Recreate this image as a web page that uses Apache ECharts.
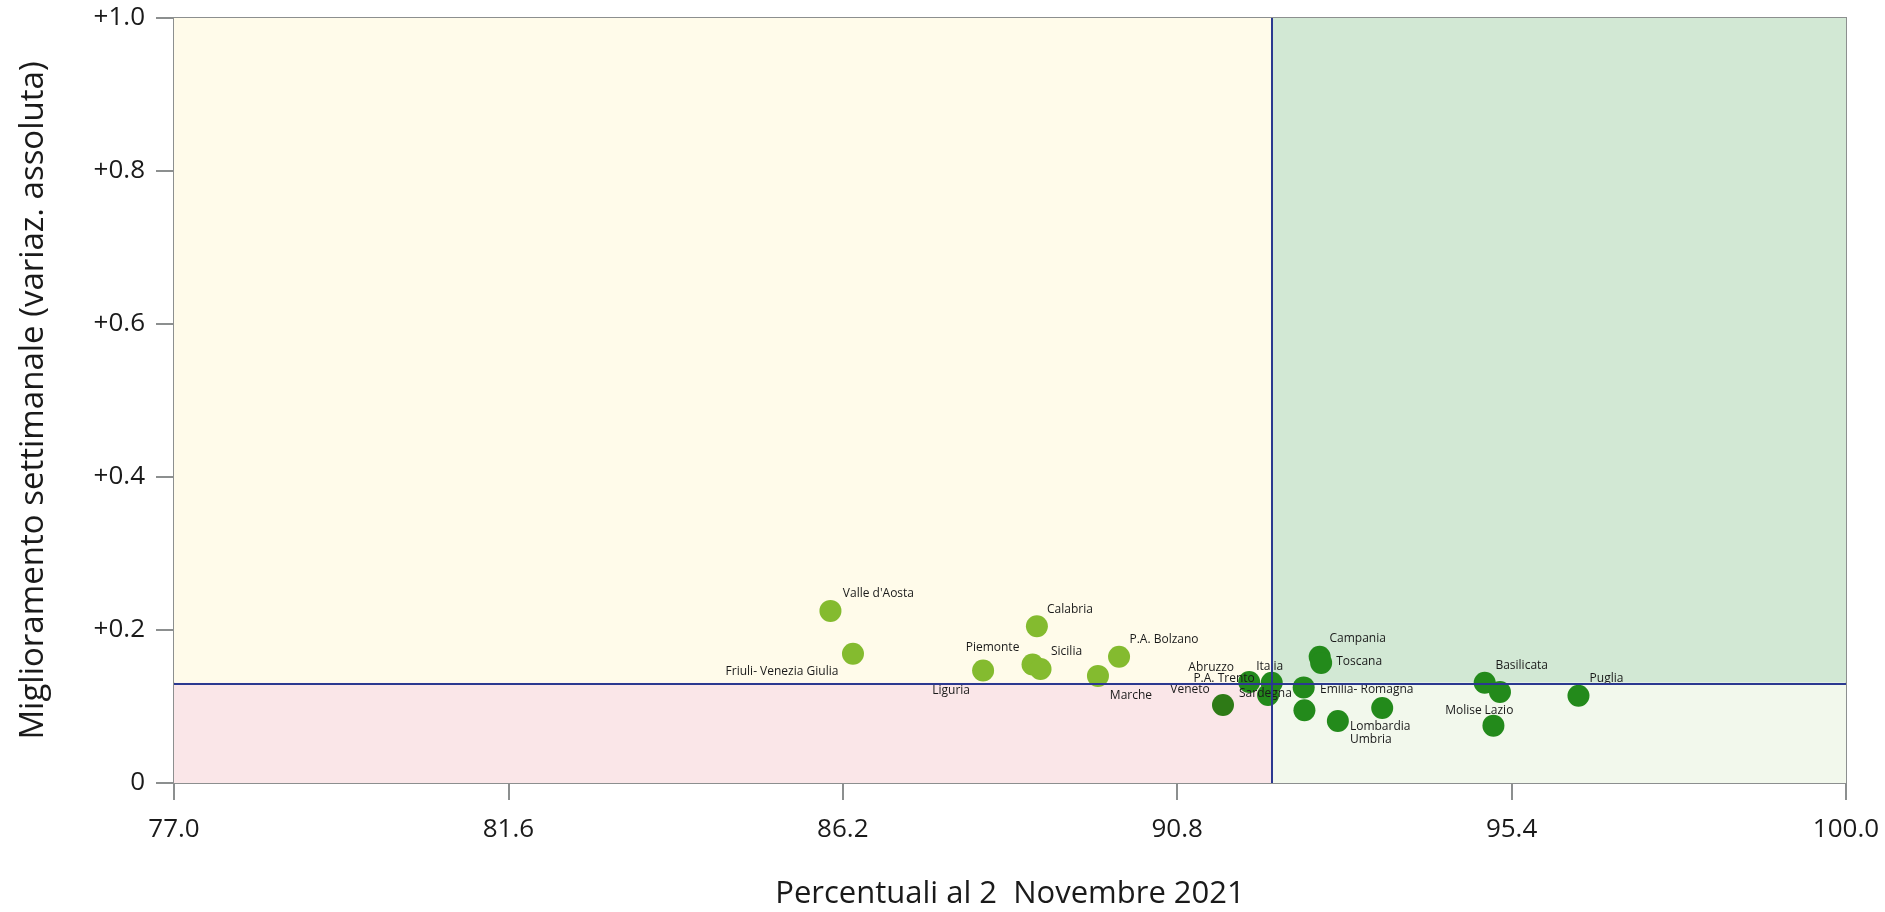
<!DOCTYPE html>
<html>
<head>
<meta charset="utf-8">
<script src="https://cdn.jsdelivr.net/npm/echarts@6/dist/echarts.min.js"></script>
<style>
html,body{margin:0;padding:0;background:#fff;}
#chart{width:1885px;height:912px;}
</style>
</head>
<body>
<div id="chart"></div>
<script>
// ---- data ----
var regions = ["Valle d'Aosta", "Friuli- Venezia Giulia", "Liguria", "Piemonte", "Sicilia", "Calabria",
  "P.A. Bolzano", "Marche", "Veneto", "Abruzzo", "P.A. Trento", "Italia", "Sardegna", "Campania",
  "Toscana", "Emilia- Romagna", "Umbria", "Lombardia", "Basilicata", "Lazio", "Molise", "Puglia"];
var percentuali = [86.03, 86.34, 88.13, 88.81, 88.92, 88.87,
  90.00, 89.71, 91.43, 91.79, 92.05, 92.10, 92.55, 92.76,
  92.78, 92.54, 93.01, 93.62, 95.03, 95.24, 95.15, 96.32];
var miglioramento = [0.225, 0.169, 0.147, 0.155, 0.149, 0.205,
  0.165, 0.140, 0.102, 0.132, 0.115, 0.131, 0.095, 0.165,
  0.157, 0.125, 0.081, 0.098, 0.131, 0.119, 0.075, 0.114];
var xTicks = [77.0, 81.6, 86.2, 90.8, 95.4, 100.0];
var yTicks = [0, 0.2, 0.4, 0.6, 0.8, 1.0];
var xTitle = "Percentuali al 2  Novembre 2021";
var yTitle = "Miglioramento settimanale (variaz. assoluta)";

// ---- label placement (style, not data) ----
var labelOffsets = [[48,-17],[-71,18],[-32,20],[-40,-17],[26,-17],[33,-17],
  [45,-17],[33,20],[-33,-15],[-38,-14],[-44,-16],[-2,-16],[-39,-17],[38,-18],
  [38,-1],[63,2],[33,19],[-2,19],[37,-17],[-1,19],[-30,-15],[28,-17]];

var iIt = regions.indexOf("Italia");
var vLine = percentuali[iIt];
var hLine = miglioramento[iIt];
var xMin = xTicks[0], xMax = xTicks[xTicks.length-1];
var yMin = yTicks[0], yMax = yTicks[yTicks.length-1];

function pointColor(x){
  if (x < 91) return '#84BB2F';
  if (x < 91.6) return '#2E7A16';
  return '#238A1B';
}

var seriesData = regions.map(function(r, i){
  return {
    name: r,
    value: [percentuali[i], miglioramento[i]],
    itemStyle: {color: pointColor(percentuali[i]), opacity: 1},
    label: {offset: labelOffsets[i]}
  };
});

var FONT = '"Open Sans", "Noto Sans", sans-serif';
var chart = echarts.init(document.getElementById('chart'), null, {renderer:'canvas'});
var option = {
  animation: false,
  backgroundColor: '#ffffff',
  grid: {left: 174, right: 39, top: 18, bottom: 129, show: true, borderColor: '#8c8f8f', borderWidth: 2,
    backgroundColor: 'transparent', outerBoundsMode: 'none', containLabel: false},
  xAxis: {
    type: 'value', min: xMin, max: xMax,
    name: xTitle, nameLocation: 'middle', nameGap: 96,
    nameTextStyle: {fontFamily: FONT, fontSize: 31, color: '#1a1a1a'},
    splitLine: {show: false},
    axisLine: {show: true, lineStyle: {color: '#8c8f8f', width: 2}},
    axisTick: {show: true, length: 17, lineStyle: {color: '#8c8f8f', width: 2}, customValues: xTicks},
    axisLabel: {customValues: xTicks, margin: 34, fontFamily: FONT, fontSize: 26, color: '#1a1a1a',
      formatter: function(v){ return v.toFixed(1); }}
  },
  yAxis: {
    type: 'value', min: yMin, max: yMax, interval: 0.2,
    name: yTitle, nameLocation: 'middle', nameGap: 124, nameRotate: 90,
    nameTextStyle: {fontFamily: FONT, fontSize: 33, color: '#1a1a1a'},
    splitLine: {show: false},
    axisLine: {show: true, lineStyle: {color: '#8c8f8f', width: 2}},
    axisTick: {show: true, length: 18, lineStyle: {color: '#8c8f8f', width: 2}},
    axisLabel: {margin: 29, fontFamily: FONT, fontSize: 26, color: '#1a1a1a',
      formatter: function(v){ return v === 0 ? '0' : '+' + v.toFixed(1); }}
  },
  series: [{
    type: 'scatter',
    symbolSize: 22,
    data: seriesData,
    label: {
      show: true, position: 'inside', formatter: '{b}',
      fontFamily: FONT, fontSize: 12, color: '#1a1a1a', align: 'center', verticalAlign: 'middle'
    },
    emphasis: {disabled: true},
    markArea: {
      silent: true,
      data: [
        [{xAxis: xMin, yAxis: hLine, itemStyle: {color: '#FFFBEA'}}, {xAxis: vLine, yAxis: yMax}],
        [{xAxis: vLine, yAxis: hLine, itemStyle: {color: '#D2E8D4'}}, {xAxis: xMax, yAxis: yMax}],
        [{xAxis: xMin, yAxis: yMin, itemStyle: {color: '#FAE6E8'}}, {xAxis: vLine, yAxis: hLine}],
        [{xAxis: vLine, yAxis: yMin, itemStyle: {color: '#F2F8EC'}}, {xAxis: xMax, yAxis: hLine}]
      ]
    },
    markLine: {
      silent: true, symbol: ['none','none'], label: {show: false},
      lineStyle: {color: '#2B3990', width: 2, type: 'solid'},
      data: [{xAxis: vLine}, {yAxis: hLine}]
    }
  }]
};
chart.setOption(option);
</script>
</body>
</html>
